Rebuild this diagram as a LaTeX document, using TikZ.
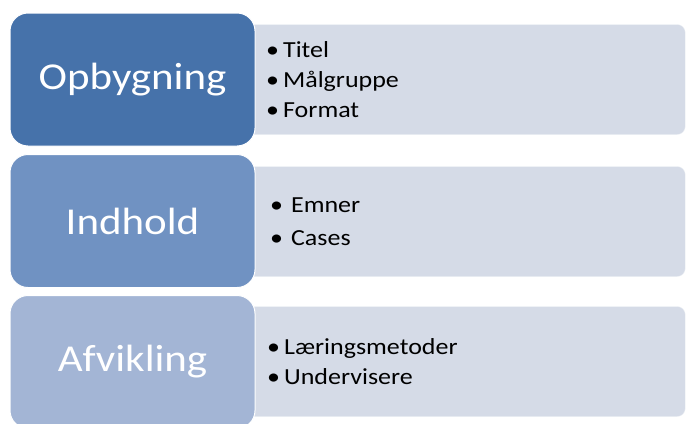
\documentclass[tikz,border=0pt]{standalone}
\usepackage{fontspec}
\setmainfont[FakeStretch=1.13]{Carlito}
\definecolor{headdark}{HTML}{4672AA}
\definecolor{headmid}{HTML}{7092C2}
\definecolor{headlight}{HTML}{A3B5D5}
\definecolor{listfill}{HTML}{D5DBE7}
\begin{document}
\begin{tikzpicture}[x=1pt,y=-1pt,
    head/.style={rounded corners=18pt,draw=white,line width=1pt,minimum width=245pt,minimum height=133pt,
      text=white,inner sep=0pt,font=\fontsize{38}{38}\selectfont},
    listbox/.style={rounded corners=8pt,fill=listfill,draw=white!60!listfill,minimum width=445pt,
      minimum height=110pt,anchor=west},
    items/.style={anchor=west,align=left,inner sep=0pt,font=\fontsize{23}{30}\selectfont}]
  \useasboundingbox (0,0) rectangle (687,423);
  % lists first, the heads lie over their left ends
  \node [listbox] (opbyg-list) at (240,79.5) {};
  \node [listbox] (indhold-list) at (240,221.5) {};
  \node [listbox] (afvik-list) at (240,361.5) {};
  \node [head,fill=headdark] (opbyg) at (132.5,79.5) {Opbygning};
  \node [head,fill=headmid] (indhold) at (132.5,221) {Indhold};
  \node [head,fill=headlight] (afvik) at (132.5,362) {Afvikling};
  \node [items] (opbyg-items) at ([xshift=26pt]opbyg-list.west)
    {\textbullet\hspace{4pt}Titel\\ \textbullet\hspace{4pt}Målgruppe\\ \textbullet\hspace{4pt}Format};
  \node [items,font=\fontsize{23}{33}\selectfont] (indhold-items) at ([xshift=30pt]indhold-list.west)
    {\textbullet\hspace{8pt}Emner\\ \textbullet\hspace{8pt}Cases};
  \node [items] (afvik-items) at ([xshift=27pt]afvik-list.west)
    {\textbullet\hspace{4pt}Læringsmetoder\\ \textbullet\hspace{4pt}Undervisere};
\end{tikzpicture}
\end{document}
